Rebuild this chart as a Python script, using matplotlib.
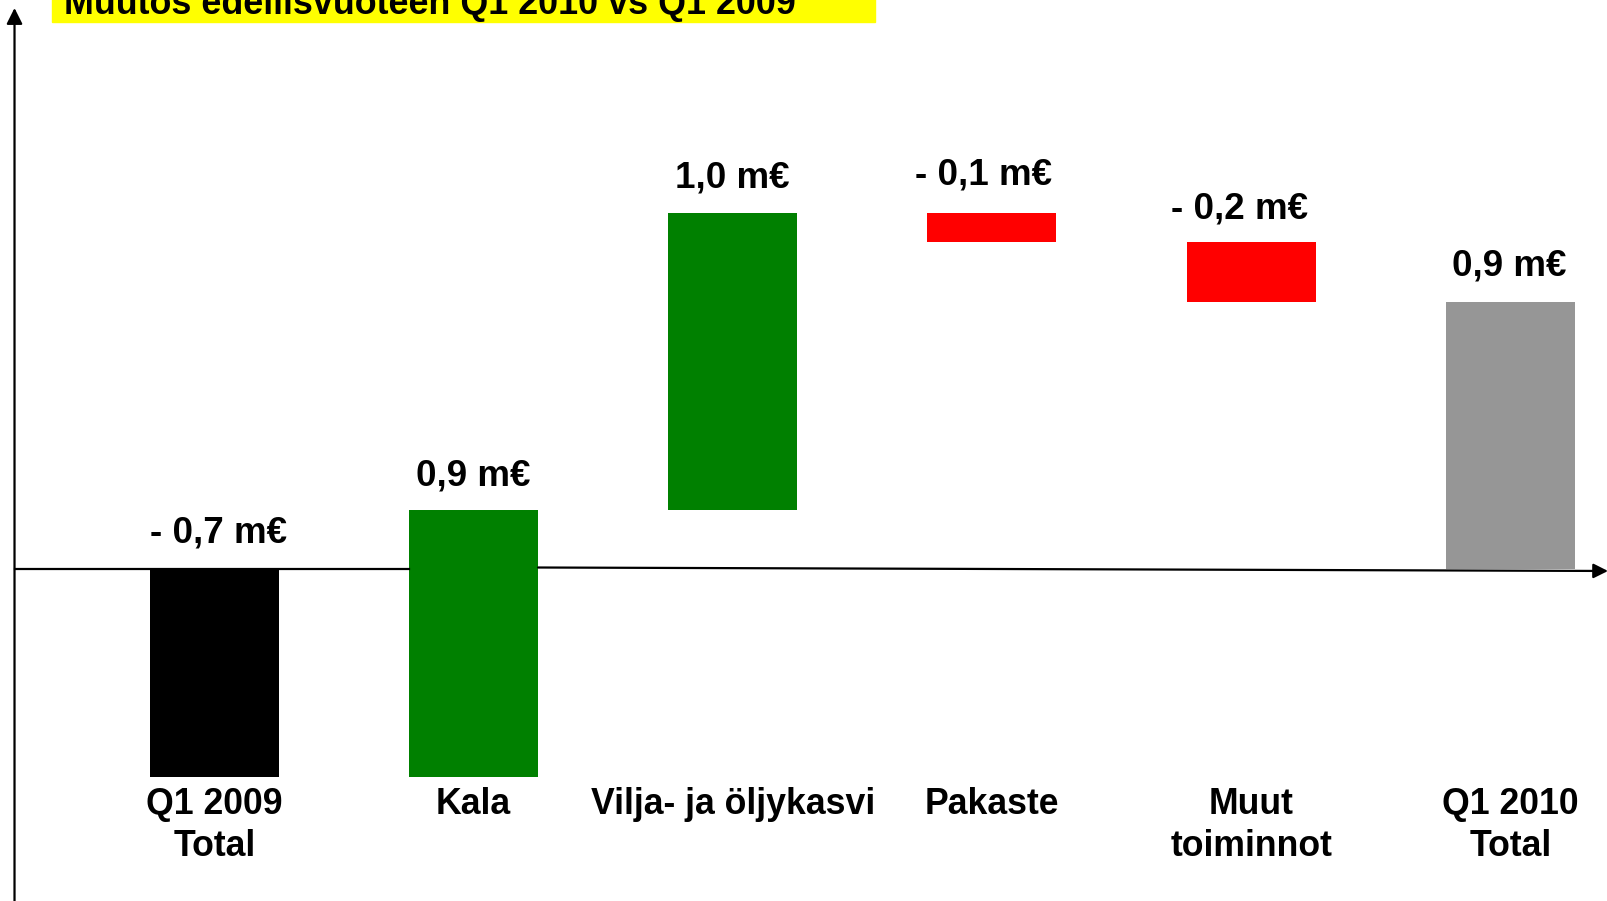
import numpy as np
import matplotlib.pyplot as plt
from matplotlib.patches import Rectangle
###############################################################################
title       = 'Muutos edellisvuoteen Q1 2010 vs Q1 2009'
categories  = ['Q1 2009\nTotal', 'Kala', 'Vilja- ja öljykasvi', 'Pakaste',
               'Muut\ntoiminnot', 'Q1 2010\nTotal']
start_total = -0.7                      # Q1 2009 total (m€)
changes     = [0.9, 1.0, -0.1, -0.2]    # steps between the totals (m€)
end_total   = 0.9                       # Q1 2010 total (m€)
value_texts = ['- 0,7 m€', '0,9 m€', '1,0 m€', '- 0,1 m€', '- 0,2 m€', '0,9 m€']
###############################################################################
plt.rcParams['font.family'] = ['Liberation Sans', 'DejaVu Sans']

# bar bottoms and heights for the waterfall
bottoms = [0.0]
heights = [start_total]
level = start_total
for c in changes:
    bottoms.append(level)
    heights.append(c)
    level += c
bottoms.append(0.0)
heights.append(end_total)

colors = ['black'] + ['#008000' if c > 0 else '#ff0000' for c in changes] + ['#969696']

# small nudges of the value labels (points), as placed in the original slide
label_dx = [3, 0, 0, -6, -8, -1]
label_dy = [19, 17, 18, 20, 17, 19]

fig = plt.figure(figsize=(16.08, 9.01), dpi=100)
ax = fig.add_axes([0, 0, 1, 1])
ax.set_xlim(-0.827, 5.377)
ax.set_ylim(-1.118, 1.916)
ax.axis('off')

x = np.arange(len(categories))
width = 0.498
ax.bar(x, heights, width, bottom=bottoms, color=colors, zorder=2)

# value labels above each bar
for i in range(len(x)):
    top = max(bottoms[i], bottoms[i] + heights[i])
    ax.annotate(value_texts[i], (x[i], top), xytext=(label_dx[i], label_dy[i]),
                textcoords='offset points', ha='center', va='baseline',
                fontsize=26.5, fontweight='bold')

# category labels under the bars
for i in range(len(x)):
    ax.text(x[i], -0.733, categories[i], ha='center', va='top',
            fontsize=25.7, fontweight='bold', linespacing=1.29)

# hand drawn axes: vertical arrow and horizontal line with arrow
ax.annotate('', xy=(-0.771, 1.889), xytext=(-0.771, -1.2),
            arrowprops=dict(arrowstyle='-|>', mutation_scale=24, lw=1.6,
                            color='black', shrinkA=0, shrinkB=0), zorder=3)
ax.plot([-0.771, x[1] - width / 2], [0, 0], color='black', lw=1.6, zorder=3)
ax.annotate('', xy=(5.377, -0.0067), xytext=(x[1] + width / 2, 0.005),
            arrowprops=dict(arrowstyle='-|>', mutation_scale=22, lw=1.6,
                            color='black', shrinkA=0, shrinkB=0), zorder=3)

# yellow title box, cut at the top edge
fig.patches.append(Rectangle((52 / 1608, 1 - 21.5 / 901), 823 / 1608, 0.05,
                             transform=fig.transFigure, color='#ffff00',
                             zorder=0))
fig.text(63.6 / 1608, 1 - 14.4 / 901, title, ha='left', va='baseline',
         fontsize=25.8, fontweight='bold')

fig.savefig('out.png', dpi=100)
